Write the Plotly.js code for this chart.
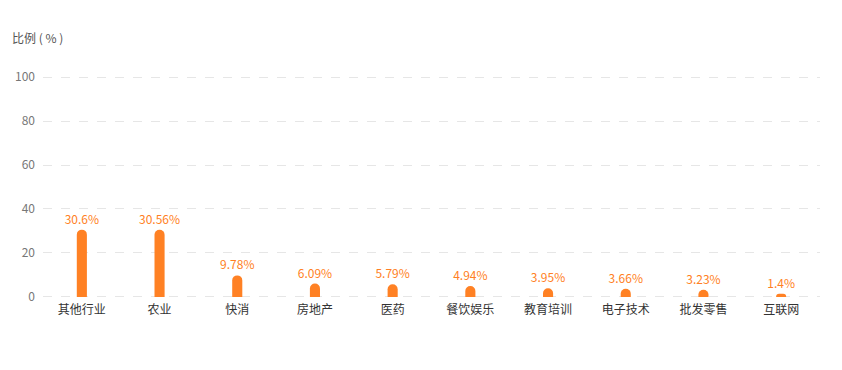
<!DOCTYPE html>
<html>
<head>
<meta charset="utf-8">
<script src="https://cdn.plot.ly/plotly-3.0.1.min.js"></script>
<style>html,body{margin:0;padding:0;background:#fff;}#chart{width:842px;height:370px;}</style>
</head>
<body>
<div id="chart"></div>
<script>
const categories = ['其他行业','农业','快消','房地产','医药','餐饮娱乐','教育培训','电子技术','批发零售','互联网'];
const values = [30.6, 30.56, 9.78, 6.09, 5.79, 4.94, 3.95, 3.66, 3.23, 1.4];
const labels = ['30.6%','30.56%','9.78%','6.09%','5.79%','4.94%','3.95%','3.66%','3.23%','1.4%'];
const yTicks = [0, 20, 40, 60, 80, 100];
const font = 'Noto Sans CJK SC, Noto Sans, sans-serif';

const trace = {
  type: 'bar',
  x: categories,
  y: values,
  text: labels,
  textposition: 'outside',
  texttemplate: '%{text}',
  constraintext: 'none',
  textangle: 0,
  textfont: {family: font, size: 12, color: '#FF7F24'},
  cliponaxis: false,
  width: 0.13,
  marker: {color: '#FF8124', cornerradius: 6, line: {width: 0}},
  hoverinfo: 'x+y'
};

const layout = {
  width: 842, height: 370,
  margin: {l: 43, r: 22, t: 76, b: 72},
  paper_bgcolor: '#fff', plot_bgcolor: '#fff',
  showlegend: false,
  font: {family: font, size: 12, color: '#666'},
  uniformtext: {mode: false},
  xaxis: {
    type: 'category',
    showgrid: false, showline: false, zeroline: false,
    ticks: '', tickfont: {family: font, size: 12, color: '#333'},
    ticklabelstandoff: 3
  },
  yaxis: {
    range: [-0.5, 100.5], tickvals: yTicks, ticktext: yTicks.map(String),
    showgrid: true, gridcolor: '#e6e6e6', griddash: 'dash', gridwidth: 1,
    zeroline: false, showline: false, ticks: '',
    tickfont: {family: font, size: 12, color: '#777'},
    ticklabelstandoff: 7
  },
  annotations: [{
    text: '比例 ( % )', xref: 'paper', yref: 'paper', x: -0.042, y: 1.0,
    xanchor: 'left', yanchor: 'bottom', yshift: 28, showarrow: false,
    font: {family: font, size: 12, color: '#555'}
  }]
};

Plotly.newPlot('chart', [trace], layout, {displayModeBar: false, staticPlot: true});
</script>
</body>
</html>
